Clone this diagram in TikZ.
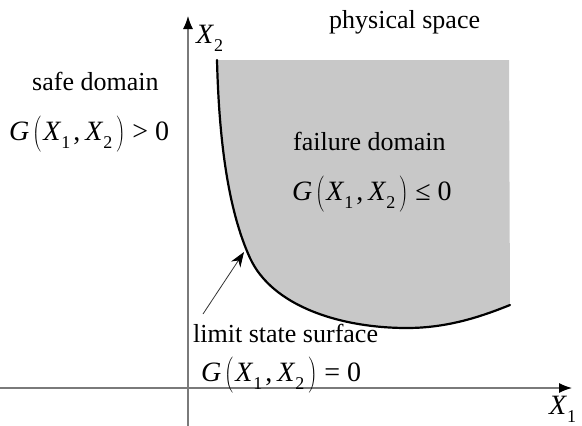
\documentclass[tikz,border=0pt]{standalone}
\usepackage{fontspec}
\setmainfont{LiberationSerif}[Extension=.ttf, UprightFont=*-Regular,
  ItalicFont=*-Italic, BoldFont=*-Bold, BoldItalicFont=*-BoldItalic]
\usetikzlibrary{arrows.meta}
\definecolor{failgrey}{HTML}{C8C8C8}
\definecolor{axisgrey}{HTML}{7A7A7A}
\tikzset{
  lbl/.style={inner sep=0pt, anchor=base west, font=\fontsize{26}{30}\selectfont},
  mlbl/.style={lbl, font=\fontsize{28}{30}\selectfont},
  axlbl/.style={lbl, font=\fontsize{28}{30}\selectfont},
  axisline/.style={draw=axisgrey, line width=1.2pt, -{Latex[length=13pt,width=10pt,color=black]}},
  lsline/.style={line width=2.2pt, draw=black, line cap=round},
  pointer/.style={line width=0.8pt, draw=black!80, -{Stealth[length=15pt,width=11pt,color=black]}}
}
\newcommand{\sbs}[1]{\raisebox{-0.3em}{\fontsize{18}{18}\selectfont #1}}
\newcommand{\lpar}{$\left(\vrule height24pt depth10pt width0pt\right.$}
\newcommand{\rpar}{$\left.\vrule height24pt depth10pt width0pt\right)$}
\newcommand{\gfun}[1]{\textit{G}\kern3pt\lpar\kern1pt\textit{X}\sbs{1}\kern3pt,\kern5pt\textit{X}\sbs{2}\kern3pt\rpar\kern7pt#1\kern7pt0}

\begin{document}
\begin{tikzpicture}[x=1pt, y=-1pt]
  \useasboundingbox (0,0) rectangle (582,426);
  % failure domain
  \fill[failgrey] (217,60) .. controls (219,140) and (228,210) .. (250,258)
      .. controls (272,306) and (340,328) .. (407,328)
      .. controls (450,328) and (485,315) .. (510,305) -- (509,60) -- cycle;
  % axes
  \coordinate (o) at (188,388);
  \coordinate (xend) at (572,388);
  \coordinate (xstart) at (0,388);
  \coordinate (yend) at (188,16);
  \coordinate (ystart) at (188,426);
  \draw[axisline] (xstart) -- (xend);
  \draw[axisline] (ystart) -- (yend);
  % limit state surface
  \draw[lsline] (217,60) .. controls (219,140) and (228,210) .. (250,258)
      .. controls (272,306) and (340,328) .. (407,328)
      .. controls (450,328) and (485,315) .. (510,305);
  % labels
  \node[axlbl] (x2) at (196,43) {\textit{X}\sbs{2}};
  \node[axlbl] (x1) at (549,414) {\textit{X}\sbs{1}};
  \node[lbl] (phys) at (329,28) {physical space};
  \node[lbl] (safe) at (32,90) {safe domain};
  \node[mlbl] (safeg) at (9,140) {\gfun{>}};
  \node[lbl] (fail) at (293,150) {failure domain};
  \node[mlbl] (failg) at (292,200) {\gfun{≤}};
  \node[lbl] (lss) at (193,342) {limit state surface};
  \node[mlbl] (lssg) at (201,381) {\gfun{=}};
  \coordinate (lsfoot) at (203,314);
  \coordinate (lstip) at (244,252);
  \draw[pointer] (lsfoot) -- (lstip);
\end{tikzpicture}
\end{document}
